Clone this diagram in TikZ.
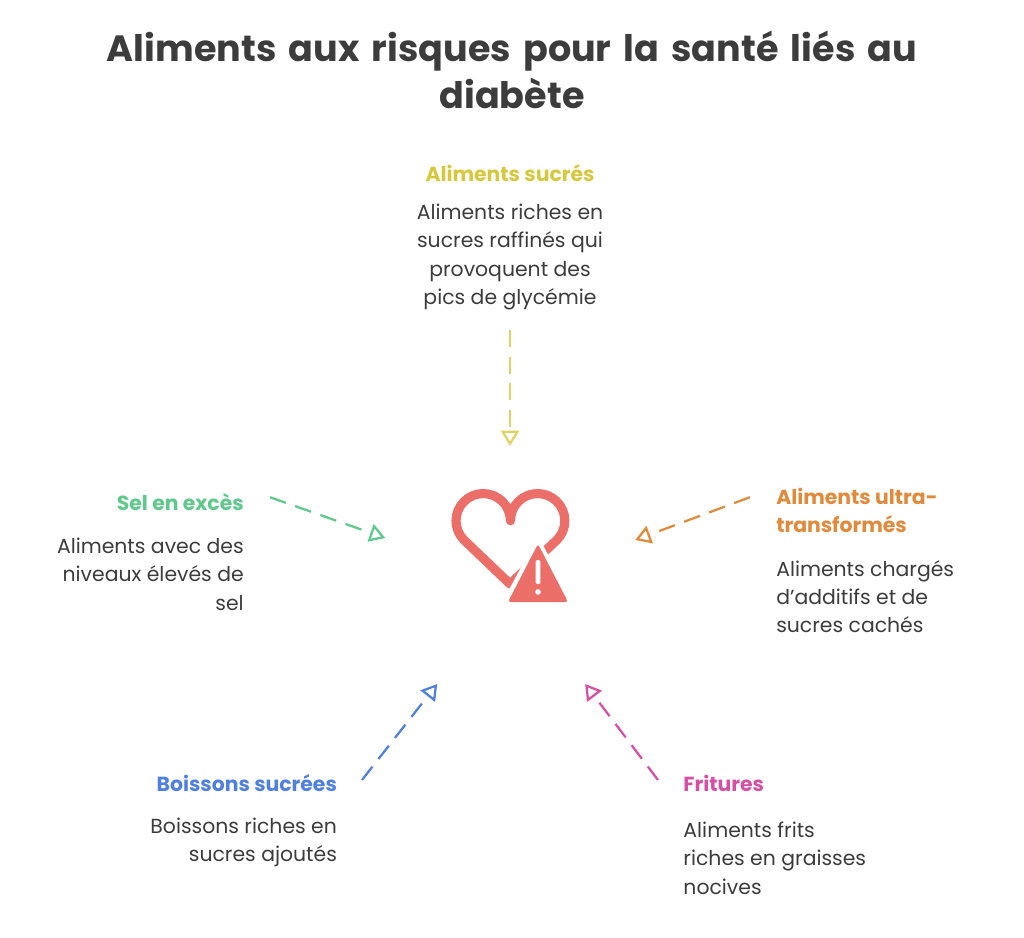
\documentclass[tikz,border=0pt]{standalone}
\usepackage{fontspec}
\setmainfont{Poppins}
\usetikzlibrary{arrows.meta, positioning}
\definecolor{txtgray}{HTML}{3C3C3C}
\definecolor{cjaune}{HTML}{D6C83C}
\definecolor{cvert}{HTML}{5EC98A}
\definecolor{corange}{HTML}{E08A3C}
\definecolor{cbleu}{HTML}{4F7FE0}
\definecolor{crose}{HTML}{D64FA5}
\definecolor{crouge}{HTML}{EB6F68}

\begin{document}
\begin{tikzpicture}[
    titre/.style={
        font=\fontsize{14.5}{20}\selectfont\bfseries,
        inner sep=0pt,
        align=left
    },
    corps/.style={
        font=\fontsize{14.5}{20}\selectfont,
        text=txtgray,
        inner sep=0pt
    },
    fleche/.style={
        -{Triangle[open, length=11pt, width=13pt]},
        line width=1.6pt,
        dash pattern=on 12pt off 7pt
    }
]
\useasboundingbox (0,0) rectangle (25.6,-23.45);

% Titre
\node (titre) [font=\fontsize{26}{34}\selectfont\bfseries, text=txtgray, align=center, text width=23cm]
    at (12.8,-1.75) {Aliments aux risques pour la santé liés au\\diabète};

% Aliments sucrés
\node (sucresT) [titre, text=cjaune] at (12.75,-4.33) {Aliments sucrés};
\node (sucresC) [corps, anchor=north, align=center] at (12.75,-5.1)
    {Aliments riches en\\sucres raffinés qui\\provoquent des\\pics de glycémie};

% Sel en excès
\node (selT) [titre, text=cvert, anchor=east] at (6.1,-12.55) {Sel en excès};
\node (selC) [corps, anchor=north east, align=right] at (6.1,-13.45)
    {Aliments avec des\\niveaux élevés de\\sel};

% Aliments ultra-transformés
\node (ultraT) [titre, text=corange, anchor=north west] at (19.4,-12.2) {Aliments ultra-\\transformés};
\node (ultraC) [corps, anchor=north west, align=left] at (19.4,-14.0)
    {Aliments chargés\\d'additifs et de\\sucres cachés};

% Boissons sucrées
\node (boissT) [titre, text=cbleu, anchor=east] at (8.43,-19.58) {Boissons sucrées};
\node (boissC) [corps, anchor=north east, align=right] at (8.43,-20.45)
    {Boissons riches en\\sucres ajoutés};

% Fritures
\node (fritT) [titre, text=crose, anchor=west] at (17.08,-19.58) {Fritures};
\node (fritC) [corps, anchor=north west, align=left] at (17.08,-20.55)
    {Aliments frits\\riches en graisses\\nocives};

% Icône centrale
\draw[crouge, line width=6.5pt, line join=round, line cap=round]
    (12.75,-14.6) -- (11.6,-13.5) arc[start angle=225, end angle=0, radius=0.68]
    arc[start angle=180, end angle=-45, radius=0.68] -- cycle;
\fill[white] (13.45,-13.4) -- (14.45,-15.25) -- (12.45,-15.25) -- cycle;
\fill[crouge, rounded corners=2pt] (13.45,-13.6) -- (14.2,-15.05) -- (12.7,-15.05) -- cycle;
\fill[white, rounded corners=1pt] (13.39,-14.0) rectangle (13.51,-14.6);
\fill[white] (13.45,-14.8) circle (0.07);
\node (icone) at (12.9,-14.0) {};

% Connecteurs
\coordinate (jA) at (12.75,-8.25);  \coordinate (jB) at (12.75,-11.15);
\coordinate (vA) at (6.75,-12.43);  \coordinate (vB) at (9.63,-13.45);
\coordinate (oA) at (18.75,-12.43); \coordinate (oB) at (15.88,-13.5);
\coordinate (bA) at (9.05,-19.5);   \coordinate (bB) at (10.93,-17.1);
\coordinate (rA) at (16.45,-19.5);  \coordinate (rB) at (14.63,-17.1);

\draw[fleche, cjaune!80] (jA) -- (jB);
\draw[fleche, cvert] (vA) -- (vB);
\draw[fleche, corange] (oA) -- (oB);
\draw[fleche, cbleu] (bA) -- (bB);
\draw[fleche, crose] (rA) -- (rB);

\end{tikzpicture}
\end{document}
